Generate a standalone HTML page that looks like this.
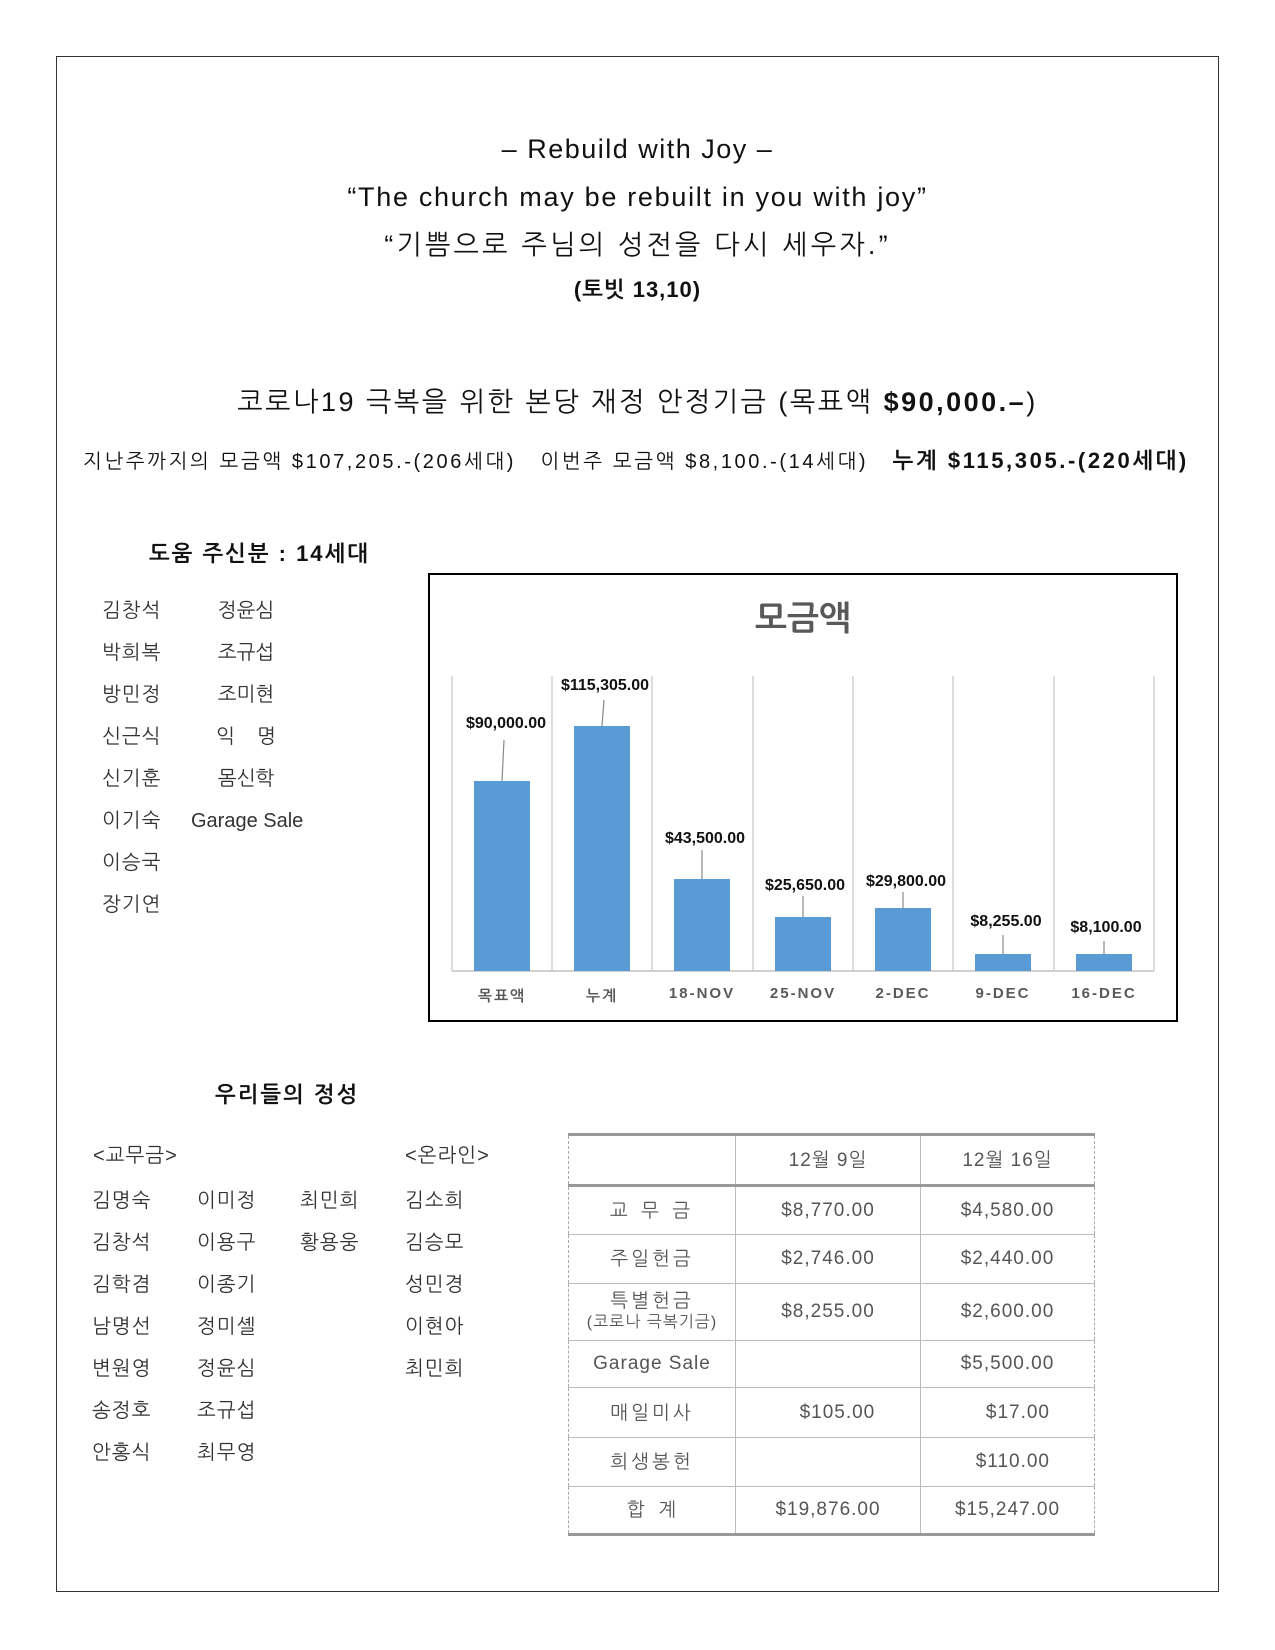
<!DOCTYPE html>
<html><head><meta charset="utf-8"><style>
body{margin:0;width:1275px;height:1650px;background:#fff;position:relative;font-family:"Liberation Sans","NanumGothic","Noto Sans CJK KR",sans-serif;color:#111;overflow:hidden}
.a{position:absolute;white-space:nowrap}
.c{position:absolute;left:0;width:1275px;text-align:center;white-space:nowrap}
.n{position:absolute;font-size:20px;color:#333;white-space:nowrap;letter-spacing:1px}
table{border-collapse:collapse;position:absolute;left:568px;top:1133px;width:527px;font-size:19px;color:#555;letter-spacing:1px}
td{border:1px solid #bbb;text-align:center;padding:0}
</style></head><body>
<div class="a" style="left:56px;top:56px;width:1161px;height:1534px;border:1px solid #333"></div>
<div class="c" style="top:134px;font-size:27px;letter-spacing:1.5px">– Rebuild with Joy –</div>
<div class="c" style="top:182px;font-size:27px;letter-spacing:1.7px">“The church may be rebuilt in you with joy”</div>
<div class="c" style="top:228px;font-size:27px;letter-spacing:3.2px">“기쁨으로 주님의 성전을 다시 세우자.”</div>
<div class="c" style="top:277px;font-size:22px;font-weight:bold;letter-spacing:1px">(토빗 13,10)</div>
<div class="c" style="top:385px;font-size:27px;letter-spacing:2.5px">코로나19 극복을 위한 본당 재정 안정기금 (목표액 <b>$90,000.–</b>)</div>
<div class="a" style="left:83px;top:448px;font-size:20px;letter-spacing:2.6px">지난주까지의 모금액 $107,205.-(206세대) &nbsp; 이번주 모금액 $8,100.-(14세대) &nbsp; <b style="font-size:22px">누계 $115,305.-(220세대)</b></div>
<div class="a" style="left:149px;top:541px;font-size:22px;font-weight:bold;letter-spacing:2px">도움 주신분 : 14세대</div>
<div class="n" style="left:102px;top:590px;line-height:42px">김창석<br>박희복<br>방민정<br>신근식<br>신기훈<br>이기숙<br>이승국<br>장기연</div>
<div class="n" style="left:191px;top:590px;line-height:42px;text-align:center;width:110px;letter-spacing:0">정윤심<br>조규섭<br>조미현<br>익 &nbsp; &nbsp;명<br>몸신학<br>Garage Sale</div>
<svg class="a" style="left:428px;top:573px" width="751" height="450" viewBox="428 573 751 450">
<rect x="429" y="574" width="748" height="447" fill="#fff" stroke="#000" stroke-width="2"/>
<text x="803" y="630" font-size="34" font-weight="bold" fill="#595959" text-anchor="middle" font-family="Liberation Sans,NanumGothic,sans-serif">모금액</text>
<g stroke="#d0d0d0" stroke-width="1.5">
<line x1="452" y1="676" x2="452" y2="971"/><line x1="552" y1="676" x2="552" y2="971"/><line x1="652" y1="676" x2="652" y2="971"/><line x1="753" y1="676" x2="753" y2="971"/><line x1="853" y1="676" x2="853" y2="971"/><line x1="953" y1="676" x2="953" y2="971"/><line x1="1054" y1="676" x2="1054" y2="971"/><line x1="1154" y1="676" x2="1154" y2="971"/>
<line x1="452" y1="971" x2="1154" y2="971" stroke-width="2"/></g>
<g fill="#5b9bd5">
<rect x="474" y="781" width="56" height="190"/><rect x="574" y="726" width="56" height="245"/><rect x="674" y="879" width="56" height="92"/><rect x="775" y="917" width="56" height="54"/><rect x="875" y="908" width="56" height="63"/><rect x="975" y="954" width="56" height="17"/><rect x="1076" y="954" width="56" height="17"/></g>
<g stroke="#888" stroke-width="1.2">
<line x1="502" y1="781" x2="504" y2="740"/><line x1="602" y1="726" x2="604" y2="700"/><line x1="702" y1="879" x2="702" y2="850"/><line x1="803" y1="917" x2="803" y2="896"/><line x1="903" y1="908" x2="903" y2="892"/><line x1="1003" y1="954" x2="1003" y2="935"/><line x1="1104" y1="954" x2="1104" y2="941"/></g>
<g font-size="16" font-weight="bold" fill="#111" text-anchor="middle" font-family="Liberation Sans,sans-serif">
<text x="506" y="728">$90,000.00</text><text x="605" y="690">$115,305.00</text><text x="705" y="843">$43,500.00</text><text x="805" y="890">$25,650.00</text><text x="906" y="886">$29,800.00</text><text x="1006" y="926">$8,255.00</text><text x="1106" y="932">$8,100.00</text></g>
<g font-size="15" font-weight="bold" fill="#595959" text-anchor="middle" letter-spacing="2" font-family="Liberation Sans,NanumGothic,sans-serif">
<text x="502" y="1001">목표액</text><text x="602" y="1001">누계</text><text x="702" y="998">18-NOV</text><text x="803" y="998">25-NOV</text><text x="903" y="998">2-DEC</text><text x="1003" y="998">9-DEC</text><text x="1104" y="998">16-DEC</text></g>
</svg>
<div class="a" style="left:215px;top:1082px;font-size:22px;font-weight:bold;letter-spacing:2px">우리들의 정성</div>
<div class="n" style="left:93px;top:1143px">&lt;교무금&gt;</div>
<div class="n" style="left:405px;top:1143px">&lt;온라인&gt;</div>
<div class="n" style="left:92px;top:1180px;line-height:42px">김명숙<br>김창석<br>김학겸<br>남명선<br>변원영<br>송정호<br>안홍식</div>
<div class="n" style="left:197px;top:1180px;line-height:42px">이미정<br>이용구<br>이종기<br>정미셸<br>정윤심<br>조규섭<br>최무영</div>
<div class="n" style="left:300px;top:1180px;line-height:42px">최민희<br>황용웅</div>
<div class="n" style="left:405px;top:1180px;line-height:42px">김소희<br>김승모<br>성민경<br>이현아<br>최민희</div>
<table>
<tr style="height:51px;border-top:3px solid #999;border-bottom:3px solid #999"><td style="width:166px;border-left:1px dashed #aaa"></td><td style="width:184px">12월 9일</td><td style="border-right:1px dashed #aaa">12월 16일</td></tr>
<tr style="height:49px"><td style="border-left:1px dashed #aaa;letter-spacing:4px">교 무 금</td><td>$8,770.00</td><td style="border-right:1px dashed #aaa">$4,580.00</td></tr>
<tr style="height:49px"><td style="border-left:1px dashed #aaa;letter-spacing:3px">주일헌금</td><td>$2,746.00</td><td style="border-right:1px dashed #aaa">$2,440.00</td></tr>
<tr style="height:57px"><td style="border-left:1px dashed #aaa;line-height:20px;letter-spacing:3px">특별헌금<br><span style="font-size:16px;letter-spacing:1px">(코로나 극복기금)</span></td><td>$8,255.00</td><td style="border-right:1px dashed #aaa">$2,600.00</td></tr>
<tr style="height:47px"><td style="border-left:1px dashed #aaa">Garage Sale</td><td></td><td style="border-right:1px dashed #aaa">$5,500.00</td></tr>
<tr style="height:50px"><td style="border-left:1px dashed #aaa;letter-spacing:3px">매일미사</td><td>&nbsp;&nbsp;&nbsp;$105.00</td><td style="border-right:1px dashed #aaa;text-align:right;padding-right:44px">$17.00</td></tr>
<tr style="height:49px"><td style="border-left:1px dashed #aaa;letter-spacing:3px">희생봉헌</td><td></td><td style="border-right:1px dashed #aaa;text-align:right;padding-right:44px">$110.00</td></tr>
<tr style="height:48px;border-bottom:3px solid #999"><td style="border-left:1px dashed #aaa">합 &nbsp;계</td><td>$19,876.00</td><td style="border-right:1px dashed #aaa">$15,247.00</td></tr>
</table>
</body></html>
